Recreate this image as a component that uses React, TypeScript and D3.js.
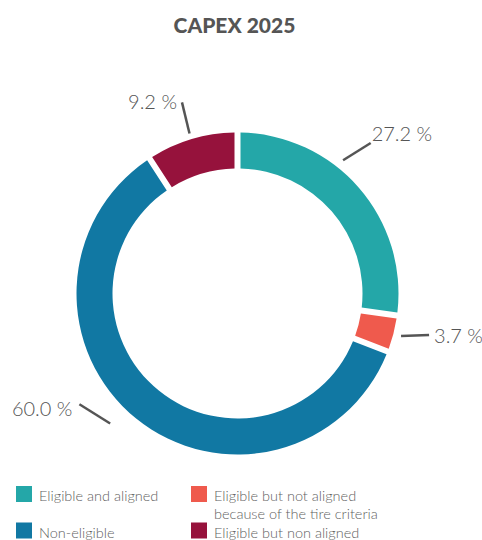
import React from "react";
import * as d3 from "d3";

const categories = [
  "Eligible and aligned",
  "Eligible but not aligned because of the tire criteria",
  "Non-eligible",
  "Eligible but non aligned",
];
const values = [27.2, 3.7, 60.0, 9.2];
const valueLabels = ["27.2 %", "3.7 %", "60.0 %", "9.2 %"];
const colors = ["#24a7a8", "#ef5a4d", "#1178a3", "#96123c"];
const legendLines = [
  ["Eligible and aligned"],
  ["Eligible but not aligned", "because of the tire criteria"],
  ["Non-eligible"],
  ["Eligible but non aligned"],
];
const title = "CAPEX 2025";

// label layout: leader line start/end in polar (deg from top, radius), text anchor point offset
const labelLayout = [
  { a0: 38.4, r0: 170, a1: 41.5, r1: 201, dx: 1, dy: -2, anchor: "start" },
  { a0: 104.6, r0: 169, a1: 102.2, r1: 196, dx: 5, dy: 8, anchor: "start" },
  { a0: 224.4, r0: 182, a1: 235, r1: 193, dx: -7, dy: 12, anchor: "end" },
  { a0: 343.3, r0: 167, a1: 343.8, r1: 199, dx: -5, dy: 7, anchor: "end" },
];

const W = 482;
const H = 540;
const cx = 237.5;
const cy = 293.5;
const outerR = 161;
const innerR = 125;

function polar(aDeg: number, r: number): [number, number] {
  const a = (aDeg * Math.PI) / 180;
  return [cx + r * Math.sin(a), cy - r * Math.cos(a)];
}

export default function App() {
  const pie = d3
    .pie<number>()
    .sort(null)
    .value((d) => d)
    .startAngle(0)
    .endAngle(2 * Math.PI);
  const arcs = pie(values);
  const arc = d3
    .arc<d3.PieArcDatum<number>>()
    .innerRadius(innerR)
    .outerRadius(outerR)
    .padRadius(outerR)
    .padAngle(6 / outerR);

  const font = "Lato, 'Open Sans', sans-serif";

  return (
    <svg
      width={W}
      height={H}
      style={{ position: "absolute", left: 0, top: 0, background: "#fff" }}
    >
      <text
        x={234.5}
        y={33}
        textAnchor="middle"
        fontFamily={font}
        fontWeight={900}
        fontSize={21}
        fill="#555555"
      >
        {title}
      </text>
      <g transform={`translate(${cx},${cy})`}>
        {arcs.map((a, i) => (
          <path key={i} d={arc(a) || ""} fill={colors[i]} />
        ))}
      </g>
      {labelLayout.map((l, i) => {
        const [x0, y0] = polar(l.a0, l.r0);
        const [x1, y1] = polar(l.a1, l.r1);
        return (
          <g key={i}>
            <line
              x1={x0}
              y1={y0}
              x2={x1}
              y2={y1}
              stroke="#555555"
              strokeWidth={2.5}
            />
            <text
              x={x1 + l.dx}
              y={y1 + l.dy}
              textAnchor={l.anchor as any}
              fontFamily={font}
              fontWeight={300}
              fontSize={20}
              fill="#555555"
            >
              {valueLabels[i]}
            </text>
          </g>
        );
      })}
      {categories.map((c, i) => {
        const col = i % 2;
        const row = Math.floor(i / 2);
        const x = col === 0 ? 16 : 191;
        const y = 486 + row * 36.5;
        return (
          <g key={c}>
            <rect x={x} y={y} width={16} height={16} fill={colors[i]} />
            {legendLines[i].map((t, j) => (
              <text
                key={j}
                x={x + 23}
                y={y + 15 + j * 17.5}
                fontFamily={font}
                fontWeight={300}
                fontSize={14.5}
                fill="#5f5f5f"
              >
                {t}
              </text>
            ))}
          </g>
        );
      })}
    </svg>
  );
}
